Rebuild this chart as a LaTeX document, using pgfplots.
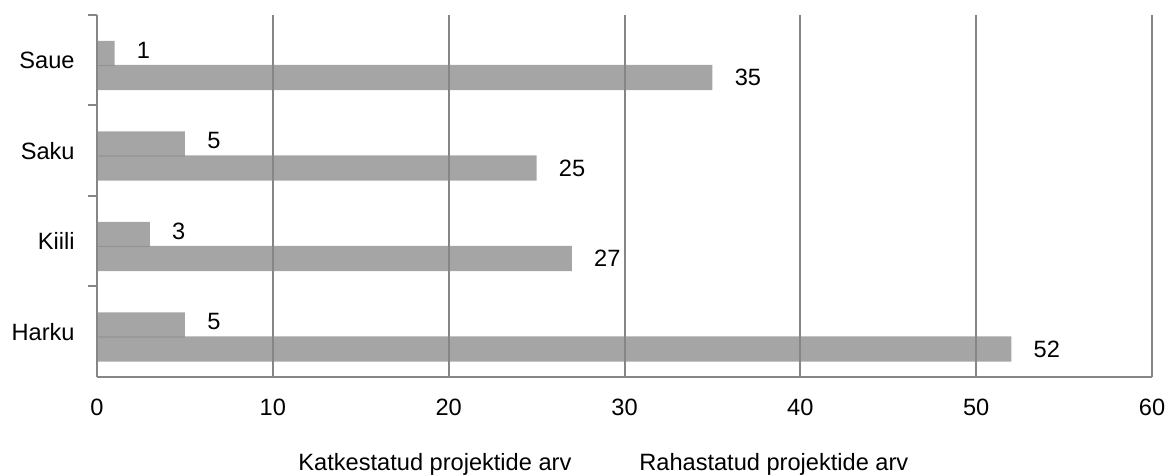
\documentclass[border=0pt]{standalone}
\usepackage{pgfplots}
\pgfplotsset{compat=1.18}
\usepackage{fontspec}
\setmainfont{Liberation Sans}

\definecolor{barfill}{RGB}{143,143,143}
\definecolor{gridc}{RGB}{134,134,134}

\begin{document}
\begin{tikzpicture}
\useasboundingbox (-48.5pt,-49.5pt) rectangle (535.5pt,188.5pt);
\begin{axis}[
    at={(0pt,0pt)}, anchor=south west,
    scale only axis,
    width=527.5pt, height=181pt,
    font=\fontsize{11.8}{13}\selectfont,
    /pgf/number format/assume math mode=true,
    xbar, bar width=0.28,
    xmin=0, xmax=60,
    ymin=-0.5, ymax=3.5,
    xtick={0,10,...,60},
    ytick={0,1,2,3},
    yticklabels={Harku,Kiili,Saku,Saue},
    minor ytick={0.5,1.5,2.5,3.5},
    major tick length=0pt,
    minor tick length=4.5pt,
    tick align=outside,
    tick style={gridc, line width=1pt},
    xmajorgrids,
    grid style={gridc, line width=1pt},
    axis x line*=bottom,
    axis y line*=left,
    axis line style={gridc, line width=1pt, -},
    axis on top,
    xticklabel style={inner sep=0pt, yshift=-11pt},
    yticklabel style={inner sep=0pt, xshift=-11pt},
    nodes near coords,
    nodes near coords align={horizontal},
    every node near coord/.append style={anchor=west, inner sep=0pt, xshift=11pt,
        black, text opacity=1},
    legend image code/.code={},
    legend columns=2,
    legend style={draw=none, fill=none, at={(0.48,-0.2376)}, anchor=center,
        /tikz/every even column/.append style={column sep=30pt}},
]
\addplot[fill=barfill, fill opacity=0.8, draw=none, bar shift=0.075,
    every node near coord/.append style={yshift=1.5pt}]
    coordinates {(5,0) (3,1) (5,2) (1,3)};
\addlegendentry{Katkestatud projektide arv}
\addplot[fill=barfill, fill opacity=0.8, draw=none, bar shift=-0.19]
    coordinates {(52,0) (27,1) (25,2) (35,3)};
\addlegendentry{Rahastatud projektide arv}
\end{axis}
\end{tikzpicture}
\end{document}
